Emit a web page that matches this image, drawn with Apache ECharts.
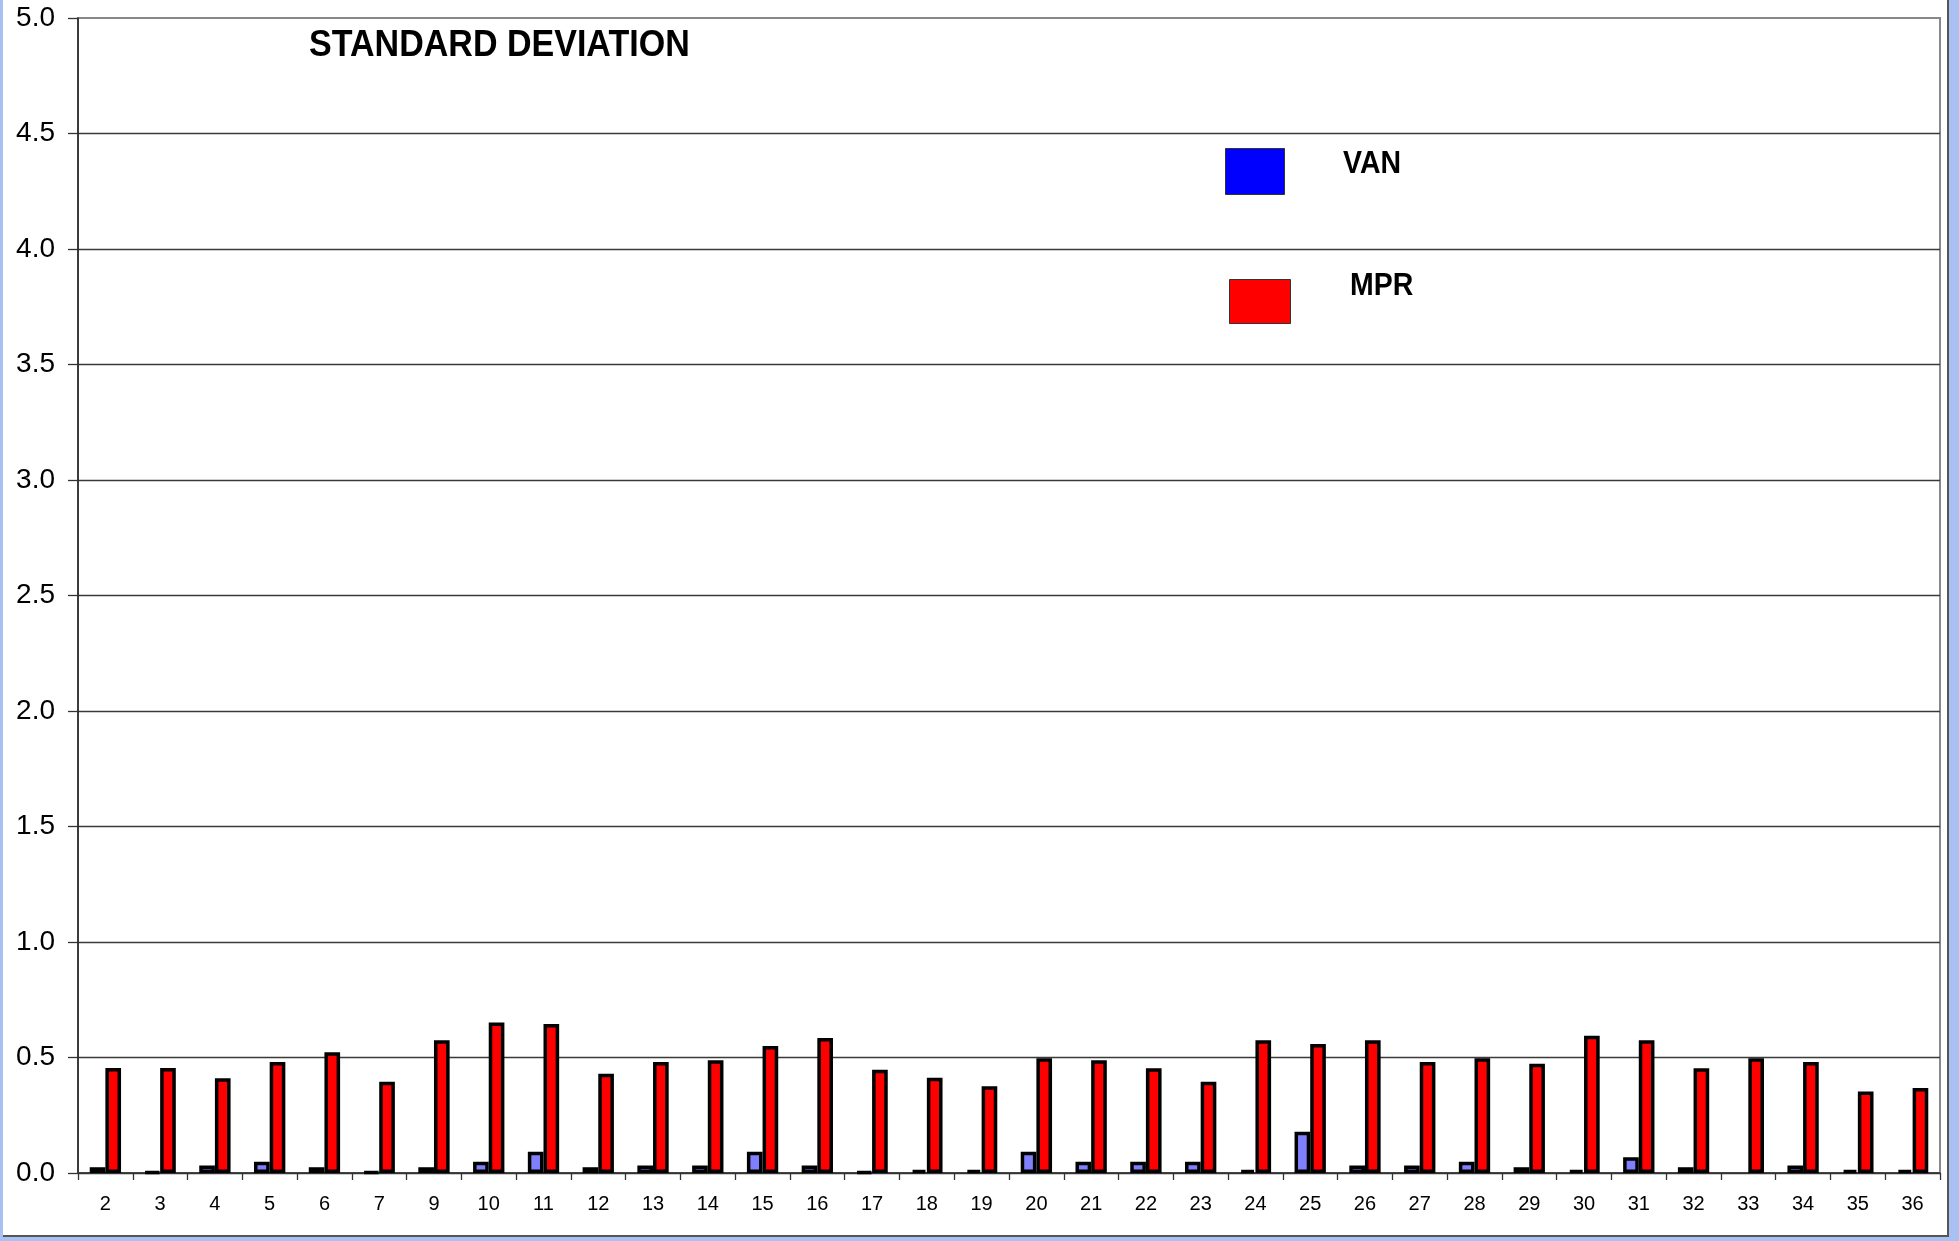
<!DOCTYPE html>
<html>
<head>
<meta charset="utf-8">
<title>Standard deviation</title>
<script src="https://cdn.jsdelivr.net/npm/echarts@6/dist/echarts.min.js"></script>
<style>
  html, body { margin: 0; padding: 0; width: 1959px; height: 1241px; overflow: hidden; background: #a9c1f2; }
  #panel { position: absolute; left: 3px; top: 0; width: 1946px; height: 1237px; background: #ffffff;
           border-right: 2px solid #555; border-bottom: 2px solid #555; box-sizing: border-box; }
  #chart { position: absolute; left: 0; top: 0; width: 1959px; height: 1241px; }
</style>
</head>
<body>
<div id="panel"></div>
<div id="chart"></div>
<script>
// Category labels along the x axis (no 8)
const categories = ['2','3','4','5','6','7','9','10','11','12','13','14','15','16','17','18','19',
  '20','21','22','23','24','25','26','27','28','29','30','31','32','33','34','35','36'];

// Standard deviation per category
const vanValues = [0.025, 0.005, 0.033, 0.049, 0.025, 0.005, 0.025, 0.049,
  0.092, 0.025, 0.033, 0.033, 0.092, 0.033, 0.005, 0.012, 0.012,
  0.092, 0.049, 0.049, 0.049, 0.012, 0.179, 0.033, 0.033,
  0.049, 0.025, 0.012, 0.068, 0.025, null, 0.033, 0.012, 0.012];

const mprValues = [0.455, 0.455, 0.410, 0.480, 0.523, 0.395, 0.575, 0.652,
  0.645, 0.430, 0.481, 0.488, 0.550, 0.584, 0.447, 0.412, 0.376,
  0.497, 0.488, 0.454, 0.395, 0.575, 0.558, 0.575, 0.480,
  0.497, 0.473, 0.594, 0.575, 0.454, 0.497, 0.480, 0.353, 0.368];

// Value axis range
const yMin = 0, yMax = 5, yStep = 0.5;

const FONT = '"Liberation Sans", Arial, sans-serif';

const chart = echarts.init(document.getElementById('chart'), null, { renderer: 'canvas' });

// Bold, slightly condensed text used for the heading and the legend names
function boldLabel(text, x, y, size, squeeze) {
  return {
    type: 'text', x: x, y: y, scaleX: squeeze, originX: 0, originY: 0, z: 10,
    style: {
      text: text, fontFamily: FONT, fontWeight: 'bold', fontSize: size,
      fill: '#000', align: 'left', verticalAlign: 'middle'
    }
  };
}

chart.setOption({
  animation: false,
  backgroundColor: 'transparent',
  legend: [
    {
      data: [{ name: 'VAN', itemStyle: { color: '#0000ff', borderColor: '#333', borderWidth: 1 } }],
      left: 1225, top: 148, padding: 0, selectedMode: false,
      icon: 'rect', itemWidth: 59, itemHeight: 46,
      formatter: () => ''
    },
    {
      data: [{ name: 'MPR', itemStyle: { color: '#ff0000', borderColor: '#333', borderWidth: 1 } }],
      left: 1229, top: 279, padding: 0, selectedMode: false,
      icon: 'rect', itemWidth: 61, itemHeight: 44,
      formatter: () => ''
    }
  ],
  graphic: [
    boldLabel('STANDARD DEVIATION', 309, 46, 37, 0.92),
    boldLabel('VAN', 1343, 164, 32, 0.89),
    boldLabel('MPR', 1350, 286, 32, 0.89)
  ],
  grid: {
    left: 78, right: 19, top: 18, bottom: 68,
    show: true, borderColor: '#888', borderWidth: 2, backgroundColor: 'transparent'
  },
  xAxis: {
    type: 'category',
    data: categories,
    boundaryGap: true,
    axisLine: { lineStyle: { color: '#333', width: 1.5 } },
    axisTick: { show: true, length: 7, lineStyle: { color: '#333', width: 1.3 } },
    axisLabel: { fontFamily: FONT, fontSize: 20, color: '#000', margin: 21, interval: 0 },
    splitLine: { show: false }
  },
  yAxis: {
    type: 'value',
    min: yMin, max: yMax, interval: yStep,
    axisLine: { show: true, lineStyle: { color: '#222', width: 1.5 } },
    axisTick: { show: true, length: 10, lineStyle: { color: '#333', width: 1.3 } },
    axisLabel: {
      fontFamily: FONT, fontSize: 28, color: '#000', margin: 23,
      formatter: v => v.toFixed(1)
    },
    splitLine: { show: true, showMaxLine: false, lineStyle: { color: '#3a3a3a', width: 1.3 } }
  },
  series: [
    {
      name: 'VAN', type: 'bar', data: vanValues,
      barWidth: '28.6%', barGap: '0%',
      itemStyle: { color: '#8080ff', borderColor: '#000', borderWidth: 3.5 }
    },
    {
      name: 'MPR', type: 'bar', data: mprValues,
      barWidth: '28.6%', barGap: '0%',
      itemStyle: { color: '#ff0000', borderColor: '#000', borderWidth: 3.5 }
    }
  ]
});
</script>
</body>
</html>
